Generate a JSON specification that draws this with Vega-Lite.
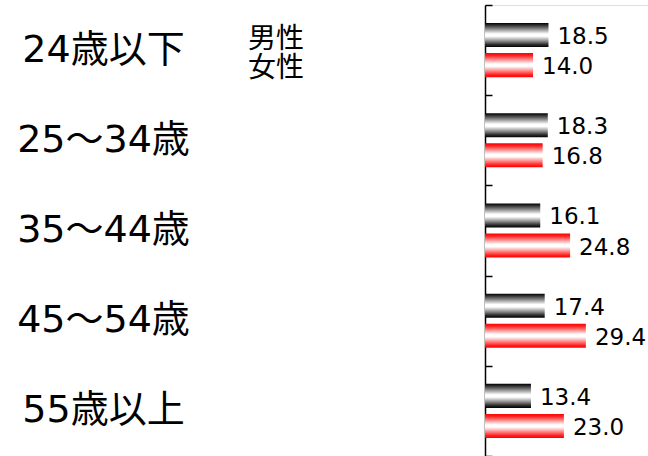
{
  "$schema": "https://vega.github.io/schema/vega-lite/v6.json",
  "autosize": {"type": "none"},
  "padding": {"left": 485, "top": 5, "right": 0, "bottom": 0},
  "width": 163,
  "height": 451,
  "background": "white",
  "title": {
    "text": ["男性", "女性"],
    "orient": "top",
    "anchor": "start",
    "frame": "group",
    "baseline": "top",
    "offset": 0,
    "dx": -237,
    "dy": 97,
    "font": "Noto Sans CJK JP",
    "fontSize": 28,
    "fontWeight": "normal",
    "lineHeight": 29,
    "color": "black"
  },
  "data": {
    "values": [
      {"age": "24歳以下", "sex": "男性", "value": 18.5},
      {"age": "24歳以下", "sex": "女性", "value": 14.0},
      {"age": "25〜34歳", "sex": "男性", "value": 18.3},
      {"age": "25〜34歳", "sex": "女性", "value": 16.8},
      {"age": "35〜44歳", "sex": "男性", "value": 16.1},
      {"age": "35〜44歳", "sex": "女性", "value": 24.8},
      {"age": "45〜54歳", "sex": "男性", "value": 17.4},
      {"age": "45〜54歳", "sex": "女性", "value": 29.4},
      {"age": "55歳以上", "sex": "男性", "value": 13.4},
      {"age": "55歳以上", "sex": "女性", "value": 23.0}
    ]
  },
  "encoding": {
    "y": {
      "field": "age",
      "type": "nominal",
      "sort": null,
      "scale": {"paddingInner": 0, "paddingOuter": 0},
      "axis": {
        "title": null,
        "orient": "left",
        "domainColor": "black",
        "domainWidth": 1.5,
        "tickColor": "black",
        "tickWidth": 1.5,
        "tickSize": -7,
        "tickBand": "extent",
        "labelFont": "DejaVu Sans, Noto Sans CJK JP",
        "labelFontSize": 38,
        "labelColor": "black",
        "labelAlign": "center",
        "labelBaseline": "middle",
        "labelPadding": 389,
        "labelLimit": 0
      }
    },
    "yOffset": {
      "field": "sex",
      "type": "nominal",
      "sort": ["男性", "女性"],
      "scale": {"domain": ["男性", "女性"], "paddingInner": 0.2, "paddingOuter": 0.6}
    },
    "x": {
      "field": "value",
      "type": "quantitative",
      "scale": {"domain": [0, 47.5], "nice": false, "zero": true},
      "axis": null
    }
  },
  "layer": [
    {
      "transform": [{"filter": "datum.sex === '男性'"}],
      "mark": {
        "type": "bar",
        "color": {
          "gradient": "linear",
          "x1": 0, "y1": 0, "x2": 0, "y2": 1,
          "stops": [
            {"offset": 0, "color": "#000000"},
            {"offset": 0.08, "color": "#2a2a2a"},
            {"offset": 0.25, "color": "#8a8a8a"},
            {"offset": 0.45, "color": "#ffffff"},
            {"offset": 0.55, "color": "#ffffff"},
            {"offset": 0.75, "color": "#8a8a8a"},
            {"offset": 0.9, "color": "#2a2a2a"},
            {"offset": 1, "color": "#000000"}
          ]
        }
      }
    },
    {
      "transform": [{"filter": "datum.sex === '女性'"}],
      "mark": {
        "type": "bar",
        "color": {
          "gradient": "linear",
          "x1": 0, "y1": 0, "x2": 0, "y2": 1,
          "stops": [
            {"offset": 0, "color": "#ff0000"},
            {"offset": 0.1, "color": "#ff2020"},
            {"offset": 0.3, "color": "#ffa0a0"},
            {"offset": 0.45, "color": "#ffffff"},
            {"offset": 0.55, "color": "#ffffff"},
            {"offset": 0.7, "color": "#ffa0a0"},
            {"offset": 0.9, "color": "#ff2020"},
            {"offset": 1, "color": "#ff0000"}
          ]
        }
      }
    },
    {
      "mark": {
        "type": "text",
        "align": "left",
        "baseline": "middle",
        "dx": 9,
        "dy": 2,
        "font": "DejaVu Sans",
        "fontSize": 23,
        "color": "black"
      },
      "encoding": {
        "text": {"field": "value", "type": "quantitative", "format": ".1f"}
      }
    }
  ]
}
